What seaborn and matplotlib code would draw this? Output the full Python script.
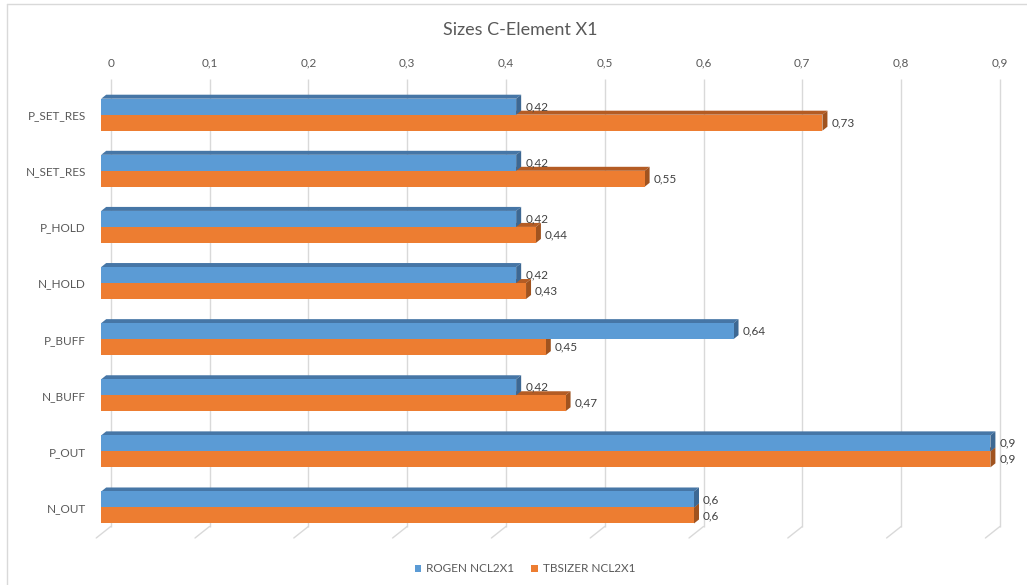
import matplotlib
matplotlib.use("Agg")
import matplotlib.pyplot as plt
import seaborn as sns
import pandas as pd
from matplotlib.patches import Polygon, Patch
from matplotlib.lines import Line2D
from matplotlib.transforms import IdentityTransform, ScaledTranslation

# ---- data -------------------------------------------------------------
categories = ["P_SET_RES", "N_SET_RES", "P_HOLD", "N_HOLD",
              "P_BUFF", "N_BUFF", "P_OUT", "N_OUT"]
rogen = [0.42, 0.42, 0.42, 0.42, 0.64, 0.42, 0.9, 0.6]
tbsizer = [0.73, 0.55, 0.44, 0.43, 0.45, 0.47, 0.9, 0.6]
series_names = ["ROGEN NCL2X1", "TBSIZER NCL2X1"]
x_ticks = [0, 0.1, 0.2, 0.3, 0.4, 0.5, 0.6, 0.7, 0.8, 0.9]
title = "Sizes C-Element X1"

# ---- style ------------------------------------------------------------
sns.set_theme(style="white")
plt.rcParams["font.family"] = ["Lato", "DejaVu Sans"]

front = {"ROGEN NCL2X1": "#5B9BD5", "TBSIZER NCL2X1": "#ED7D31"}
top_col = {"ROGEN NCL2X1": "#4676A6", "TBSIZER NCL2X1": "#B45C24"}
side_col = {"ROGEN NCL2X1": "#3D6893", "TBSIZER NCL2X1": "#A0531F"}
grid_col = "#D9D9D9"
text_col = "#595959"
label_col = "#404040"

W, H = 1027, 585
fig = plt.figure(figsize=(W / 100, H / 100), dpi=100)

# axes placed in pixel units; the x range 0..0.9 spans the bar fronts
px_per_unit = 988.0
ax_left, ax_top, ax_bottom = 101.2, 79.0, 526.5
ax_right = ax_left + 0.9 * px_per_unit
ax = fig.add_axes([ax_left / W, 1 - ax_bottom / H,
                   (ax_right - ax_left) / W, (ax_bottom - ax_top) / H])

df = pd.DataFrame({
    "category": categories * 2,
    "size": rogen + tbsizer,
    "tool": [series_names[0]] * len(categories) + [series_names[1]] * len(categories),
})

sns.barplot(data=df, y="category", x="size", hue="tool", order=categories,
            hue_order=series_names, palette=front, orient="h", width=0.57,
            saturation=1, ax=ax, legend=False, linewidth=0)

ax.set_xlim(0, 0.9)
ax.set_ylim(7.339, -0.636)
for s in ax.spines.values():
    s.set_visible(False)
ax.set_xlabel("")
ax.set_ylabel("")
ax.set_xticks([])
ax.tick_params(axis="y", length=0, pad=11.0, labelsize=8.5, labelcolor=text_col)

# back wall sits 9.5 px to the right of the bar fronts
wall = 9.5
wall_shift = ax.transData + ScaledTranslation(wall / 100, 0, fig.dpi_scale_trans)
ylo, yhi = ax.get_ylim()
ax.vlines(x_ticks, yhi, ylo, color=grid_col, lw=1.0, zorder=0,
          transform=wall_shift, clip_on=False)
for t in x_ticks:
    # slanted floor edge at the foot of each gridline
    ax.annotate("", xy=(t, ylo), xycoords=wall_shift,
                xytext=(-14.5, -11.5), textcoords="offset pixels",
                arrowprops=dict(arrowstyle="-", color=grid_col, lw=1.0,
                                shrinkA=0, shrinkB=0, patchA=None, patchB=None),
                annotation_clip=False)
    # value axis labels along the top, with comma decimals
    ax.annotate(f"{t:g}".replace(".", ","), xy=(t, yhi), xycoords=wall_shift,
                xytext=(0, 16), textcoords="offset pixels", ha="center", va="center",
                fontsize=8.5, color=text_col, annotation_clip=False)

# 3-D look: top and side faces on every bar
dx, dy = 5.0, 4.0
bars = list(ax.patches)
n = len(categories)
fig.canvas.draw()
for i, bar in enumerate(bars):
    name = series_names[i // n]
    x0, y0 = bar.get_x(), bar.get_y()
    w, h = bar.get_width(), bar.get_height()
    (px0, py_a), (px1, py_b) = ax.transData.transform([(x0, y0), (x0 + w, y0 + h)])
    ptop, pbot = max(py_a, py_b), min(py_a, py_b)
    z = 2.2 if name == series_names[0] else 1.2
    bar.set_zorder(z + 0.5)
    bar.set_clip_on(False)
    top = Polygon([(px0, ptop), (px1, ptop), (px1 + dx, ptop + dy), (px0 + dx, ptop + dy)],
                  closed=True, transform=IdentityTransform(), fc=top_col[name],
                  ec="none", zorder=z, clip_on=False)
    side = Polygon([(px1, ptop), (px1 + dx, ptop + dy), (px1 + dx, pbot + dy), (px1, pbot)],
                   closed=True, transform=IdentityTransform(), fc=side_col[name],
                   ec="none", zorder=z, clip_on=False)
    ax.add_artist(top)
    ax.add_artist(side)
    ax.annotate(f"{w:g}".replace(".", ","), xy=(x0 + w, y0 + h / 2),
                xytext=(dx + 4, 0), textcoords="offset pixels",
                ha="left", va="center", fontsize=8.5, color=label_col,
                annotation_clip=False, zorder=6)

# title
fig.text(520 / W, 1 - 30 / H, title, ha="center", va="center",
         fontsize=13, color=text_col)

# legend
handles = [Patch(facecolor=front[s], edgecolor="none", label=s) for s in series_names]
fig.legend(handles=handles, loc="center", bbox_to_anchor=(525 / W, 1 - 569 / H),
           ncol=2, frameon=False, fontsize=8.5, handlelength=0.55, handleheight=0.55,
           handletextpad=0.45, columnspacing=1.4, labelcolor=text_col)

# chart area border
fig.add_artist(Line2D([7 / W, 7 / W], [0, 1 - 4 / H], transform=fig.transFigure,
                      color=grid_col, lw=1.0))
fig.add_artist(Line2D([7 / W, 1], [1 - 4 / H, 1 - 4 / H], transform=fig.transFigure,
                      color=grid_col, lw=1.0))

fig.savefig("out.png", dpi=100)
